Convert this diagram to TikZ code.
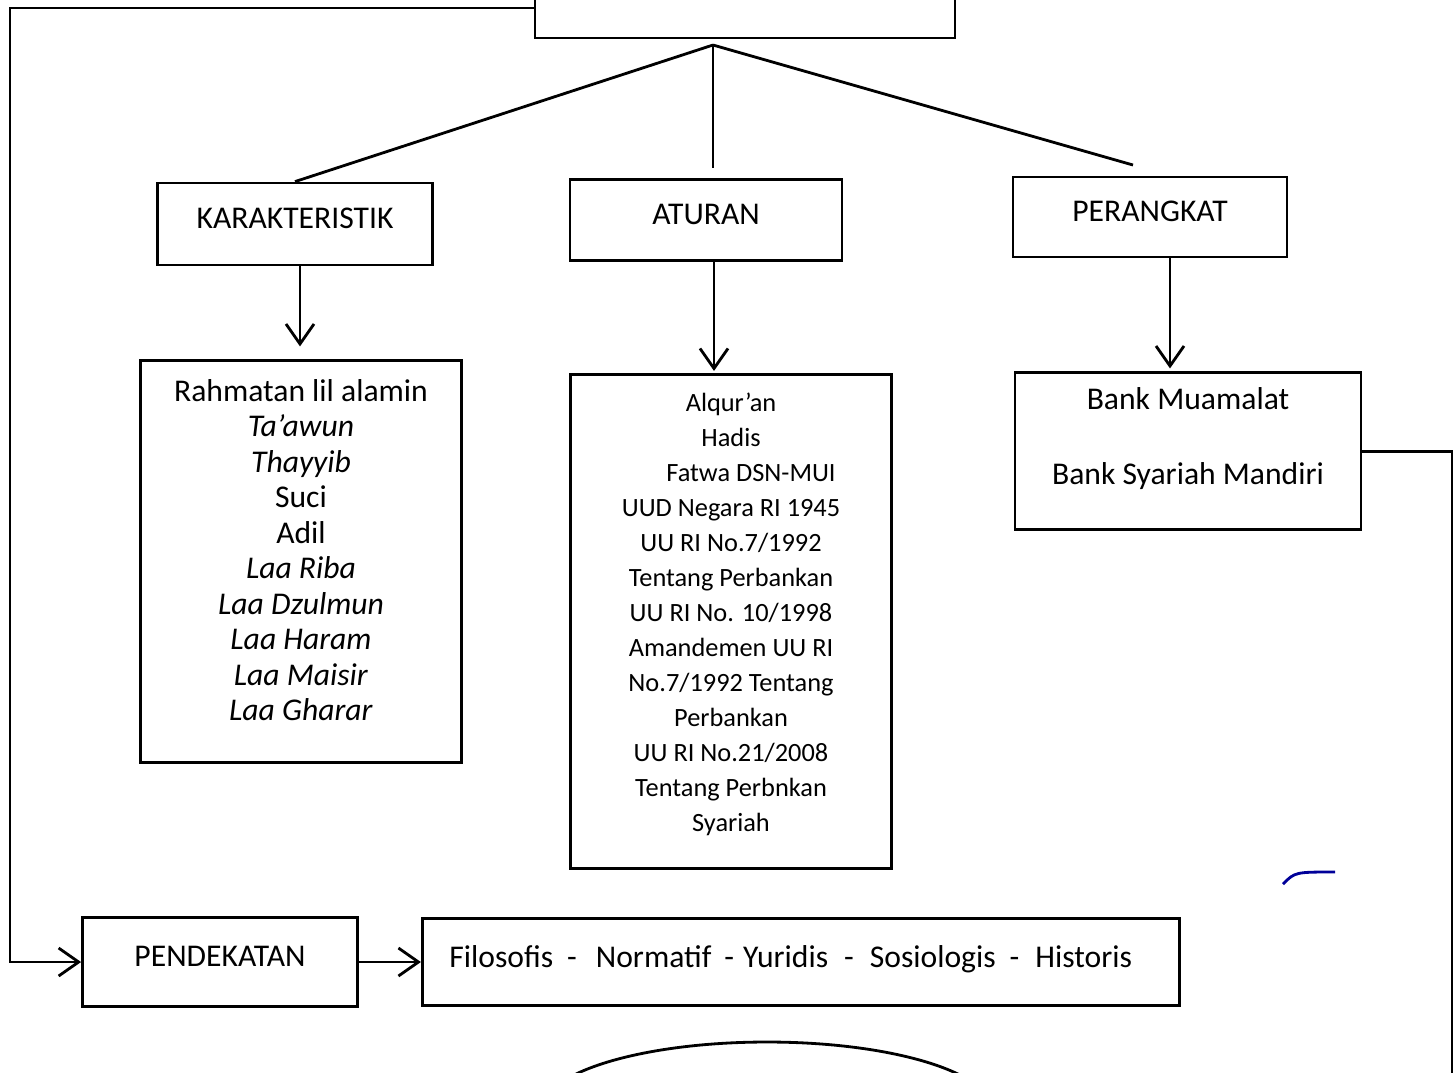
\documentclass[tikz,border=0pt]{standalone}
\usepackage{fontspec}
\setmainfont{Carlito}
\usetikzlibrary{positioning,arrows.meta,shapes.geometric}

\begin{document}
\begin{tikzpicture} [
                x=0.1mm, y=-0.1mm,
                boxnode/.style={
                    rectangle,
                    draw,
                    thick,
                    align=center,
                    text depth=1.2mm,
                    font=\fontsize{9}{10.1}\selectfont
                },
                arrowline/.style={
                    thick,
                    -{Straight Barb[length=2mm,width=2.8mm]}
                }
            ]
                \useasboundingbox (0,0) rectangle (1456,1072);

                \node[boxnode, minimum width=42mm, minimum height=6mm]      (basis)        at (745,8)      {};
                \node[boxnode, minimum width=27.5mm, minimum height=8.2mm]  (karakteristik) at (295,224)   {KARAKTERISTIK};
                \node[boxnode, minimum width=27.2mm, minimum height=8.1mm]  (aturan)       at (706,220)    {ATURAN};
                \node[boxnode, minimum width=27.4mm, minimum height=8mm]    (perangkat)    at (1150,217)   {PERANGKAT};

                \node[boxnode, minimum width=32.1mm, minimum height=40.2mm, text depth=2.4mm]
                                                                            (karlist)      [below=9.3mm of karakteristik, xshift=0.6mm]
                    {Rahmatan lil alamin\\ \textit{Ta’awun}\\ \textit{Thayyib}\\ Suci\\ Adil\\ \textit{Laa Riba}\\ \textit{Laa Dzulmun}\\ \textit{Laa Haram}\\ \textit{Laa Maisir}\\ \textit{Laa Gharar}};
                \node[boxnode, minimum width=32.1mm, minimum height=49.4mm, text depth=1.9mm, font=\fontsize{7.5}{9.96}\selectfont]
                                                                            (aturlist)     [below=11.1mm of aturan, xshift=2.5mm]
                    {Alqur’an\\ Hadis\\ \hspace*{4mm}Fatwa DSN-MUI\\ UUD Negara RI 1945\\ UU RI No.7/1992\\ Tentang Perbankan\\ UU RI No. 10/1998\\ Amandemen UU RI\\ No.7/1992 Tentang\\ Perbankan\\ UU RI No.21/2008\\ Tentang Perbnkan\\ Syariah};
                \node[boxnode, minimum width=34.6mm, minimum height=15.7mm, text depth=3mm]
                                                                            (perlist)      [below=11.3mm of perangkat, xshift=3.8mm]
                    {Bank Muamalat\\[11.2pt] Bank Syariah Mandiri};

                \node[boxnode, minimum width=27.5mm, minimum height=8.9mm]  (pendekatan)   at (220,962)    {PENDEKATAN};
                \node[boxnode, minimum width=75.7mm, minimum height=8.7mm]  (filosofis)    [right=6.2mm of pendekatan]
                    {Filosofis\hspace{1.4mm}-\hspace{1.9mm}Normatif\hspace{1.3mm}-\hspace{0.9mm}Yuridis\hspace{1.6mm}-\hspace{1.6mm}Sosiologis\hspace{1.4mm}-\hspace{1.6mm}Historis\hspace*{2mm}};

                \node[boxnode, ellipse, minimum width=45mm, minimum height=13.6mm] (lingkaran) at (767,1110) {};

                \coordinate (puncak)    at (713,45);
                \coordinate (aturtop)   at (713,168);
                \coordinate (pertop)    at (1133,165);
                \coordinate (kiri)      at (10,500);
                \coordinate (kanan)     at (1452,1090);

                \draw[thick] (puncak) -- (karakteristik.north);
                \draw[thick] (puncak) -- (aturtop);
                \draw[thick] (puncak) -- (pertop);

                \draw[arrowline, shorten >=1.3mm] ([xshift=0.5mm]karakteristik.south) -- ([xshift=0.5mm]karakteristik.south |- karlist.north);
                \draw[arrowline, shorten >=0.2mm] ([xshift=0.8mm]aturan.south) -- ([xshift=0.8mm]aturan.south |- aturlist.north);
                \draw[arrowline, shorten >=0.3mm] ([xshift=2mm]perangkat.south) -- ([xshift=2mm]perangkat.south |- perlist.north);

                \draw[arrowline] (basis.west) -| (kiri) |- (pendekatan.west);
                \draw[arrowline] (pendekatan.east) -- (pendekatan.east -| filosofis.west);
                \draw[thick] (perlist.east) -| (kanan);

                \draw[blue!60!black, line width=0.8pt] (1283,884) .. controls (1295,872) .. (1335,872);

            \end{tikzpicture}
\end{document}
